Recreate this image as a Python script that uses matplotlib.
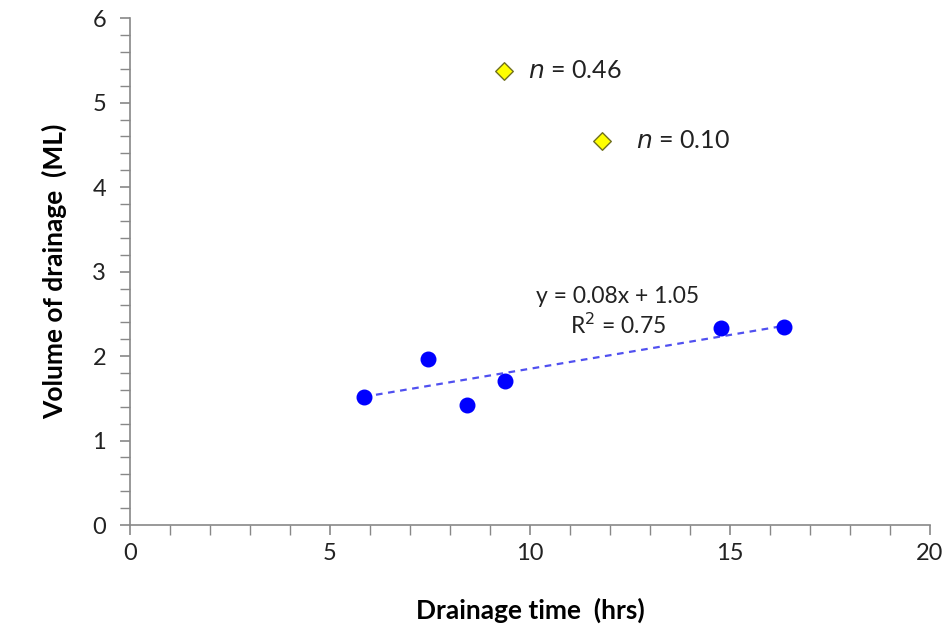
import numpy as np
import matplotlib
matplotlib.use('Agg')
import matplotlib.pyplot as plt
from matplotlib.ticker import MultipleLocator

plt.rcParams['font.family'] = ['Lato', 'DejaVu Sans']

# measured drainage events
drain_time = [5.85, 7.45, 8.43, 9.38, 14.78, 16.35]
drain_vol = [1.51, 1.96, 1.42, 1.70, 2.33, 2.35]

# outliers, labelled by n
out_time = [9.35, 11.8]
out_vol = [5.38, 4.55]
out_labels = ['0.46', '0.10']
label_x = [9.95, 12.65]

# linear trend shown on the chart
slope, intercept, r2 = 0.08, 1.05, 0.75

fig = plt.figure(figsize=(9.48, 6.28), dpi=100)
ax = fig.add_axes([0.137, 0.164, 0.844, 0.807])

x_fit = np.array([min(drain_time), max(drain_time)])
ax.plot(x_fit, slope * x_fit + intercept, linestyle=(0, (3, 2.5)),
        color='#5050f0', linewidth=1.6, zorder=2)
ax.scatter(drain_time, drain_vol, s=110, color='#0000ff', zorder=3)
ax.scatter(out_time, out_vol, s=80, marker='D', color='#ffff00',
           edgecolor='#707020', linewidth=1.0, zorder=3)

for lx, y, lab in zip(label_x, out_vol, out_labels):
    ax.text(lx, y, r'$n$ = ' + lab, fontsize=18, va='center', ha='left',
            color='#222222')

ax.text(12.2, 2.70, 'y = %.2fx + %.2f' % (slope, intercept), fontsize=16.5,
        ha='center', va='center', color='#222222')
ax.text(12.2, 2.36, 'R$^2$ = %.2f' % r2, fontsize=16.5, ha='center', va='center',
        color='#222222')

ax.set_xlim(0, 20)
ax.set_ylim(0, 6)
ax.xaxis.set_major_locator(MultipleLocator(5))
ax.xaxis.set_minor_locator(MultipleLocator(1))
ax.yaxis.set_major_locator(MultipleLocator(1))
ax.yaxis.set_minor_locator(MultipleLocator(0.2))

for side in ['top', 'right']:
    ax.spines[side].set_visible(False)
for side in ['left', 'bottom']:
    ax.spines[side].set_color('#888888')
    ax.spines[side].set_linewidth(1.2)
ax.tick_params(which='major', length=7, color='#888888', width=1.2,
               labelsize=17, labelcolor='#222222')
ax.tick_params(axis='x', which='major', pad=6)
ax.tick_params(axis='y', which='major', pad=10)
ax.tick_params(which='minor', length=7, color='#888888', width=1.0)

ax.set_xlabel('Drainage time  (hrs)', fontsize=19, fontweight='bold', labelpad=24)
ax.set_ylabel('Volume of drainage  (ML)', fontsize=19, fontweight='bold', labelpad=18)

fig.savefig('out.png', dpi=100)
